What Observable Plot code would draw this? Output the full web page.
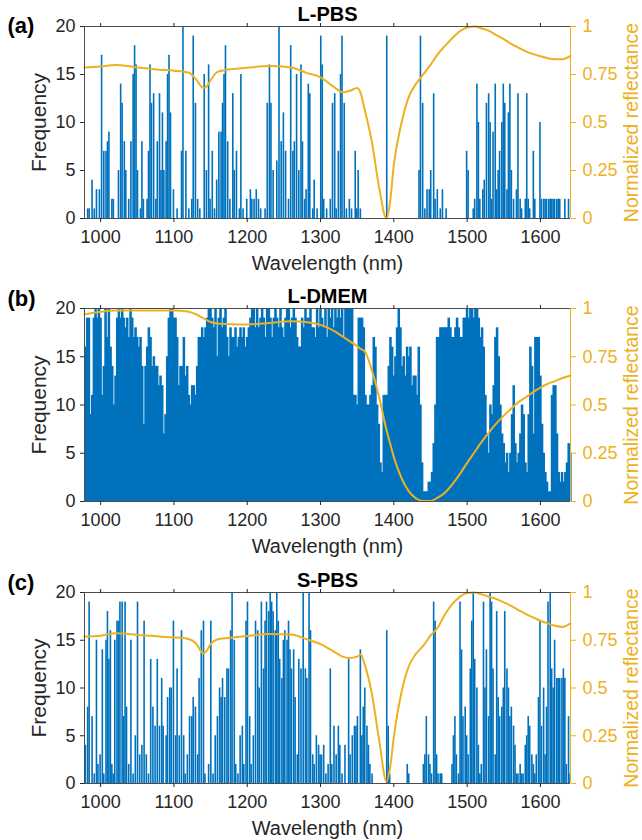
<!DOCTYPE html>
<html>
<head>
<meta charset="utf-8">
<script src="https://cdn.jsdelivr.net/npm/d3@7"></script>
<script src="https://cdn.jsdelivr.net/npm/@observablehq/plot@0.6"></script>
<style>
  html, body { margin: 0; padding: 0; background: #fff; width: 642px; height: 840px; overflow: hidden; }
  svg { display: block; }
</style>
</head>
<body>
<div id="chart"></div>
<script>
// ---------- data ----------
const xTicks = [1000, 1100, 1200, 1300, 1400, 1500, 1600];
const yTicks = [0, 5, 10, 15, 20];
const reflTickLabels = ["0", "0.25", "0.5", "0.75", "1"];
const xDomain = [978, 1641];
const titles = ["L-PBS", "L-DMEM", "S-PBS"];
const letters = ["(a)", "(b)", "(c)"];

// (a) L-PBS histogram: [wavelength nm, frequency]
const lpbsBars = [
  [983,1],[985,1],[989,4],[992,1],[995,3],[999,3],[1002,17],[1005,7],[1008,7],[1010,8],
  [1012,9],[1016,2],[1018,2],[1025,5],[1028,14],[1030,12],[1033,8],[1035,5],[1039,2],[1042,8],
  [1045,15],[1047,18],[1049,16],[1051,5],[1055,1],[1057,8],[1059,2],[1064,2],[1066,7],[1068,16],
  [1070,12],[1073,13],[1076,2],[1078,8],[1081,13],[1083,5],[1085,11],[1087,5],[1090,8],[1092,15],
  [1094,17],[1096,11],[1100,3],[1105,1],[1111,7],[1113,20],[1117,7],[1121,1],[1125,2],[1127,19],
  [1130,12],[1133,2],[1136,1],[1142,15],[1145,5],[1148,16],[1150,2],[1153,7],[1156,1],[1159,4],
  [1162,9],[1165,9],[1167,12],[1169,15],[1171,18],[1174,8],[1177,2],[1181,13],[1183,5],[1186,7],
  [1190,1],[1192,15],[1195,1],[1200,2],[1205,3],[1207,2],[1210,2],[1213,3],[1216,2],[1219,1],
  [1225,1],[1228,12],[1231,16],[1233,12],[1236,5],[1241,6],[1244,20],[1247,8],[1250,11],[1253,7],
  [1257,2],[1260,18],[1263,7],[1265,8],[1268,15],[1271,5],[1274,16],[1276,8],[1279,2],[1281,3],
  [1284,14],[1286,13],[1290,1],[1292,4],[1296,1],[1301,19],[1303,16],[1305,2],[1309,1],[1314,2],
  [1317,12],[1320,13],[1322,1],[1325,7],[1328,15],[1330,19],[1333,12],[1336,1],[1340,2],[1343,1],
  [1348,7],[1350,1],[1352,5],[1355,1],[1391,19],[1435,5],[1437,19],[1440,12],[1443,1],[1446,3],
  [1449,3],[1451,5],[1455,13],[1457,2],[1460,3],[1464,1],[1467,3],[1472,1],[1500,7],[1502,5],
  [1509,1],[1511,2],[1514,14],[1516,10],[1518,2],[1522,3],[1524,4],[1527,12],[1530,13],[1532,10],
  [1534,2],[1536,9],[1539,14],[1541,3],[1543,5],[1545,7],[1548,10],[1550,14],[1552,12],[1555,3],
  [1557,11],[1559,14],[1561,5],[1564,2],[1568,3],[1570,13],[1573,2],[1575,1],[1580,2],[1582,13],
  [1584,2],[1586,1],[1591,7],[1593,2],[1600,10],[1602,2],[1605,2],[1607,2],[1609,2],[1612,2],
  [1614,2],[1616,2],[1618,2],[1620,2],[1623,2],[1625,2],[1627,2],[1634,2],[1639,2]
];

// (b) L-DMEM histogram: consecutive bins from ldmemStart, each ldmemStep nm wide
const ldmemStart = 979.55;
const ldmemStep = 2.2727;
const ldmemCounts = [
  16,19,19,9,11,19,20,19,20,19, 11,14,20,17,20,16,14,10,13,19,
  20,19,20,19,18,19,17,20,19,17, 18,17,16,17,14,8,14,16,18,17,
  14,15,14,14,12,13,12,7,9,15, 19,20,20,19,19,17,12,14,14,17,
  13,14,11,10,12,12,11,14,17,17, 18,17,18,19,20,20,19,18,20,15,
  19,20,18,19,20,17,15,18,17,17, 18,16,17,18,17,18,16,17,18,19,
  20,20,18,20,18,19,20,19,17,20, 20,19,17,19,20,19,18,20,18,17,
  19,20,20,18,19,20,19,17,16,16, 19,18,20,19,19,20,18,18,17,20,
  18,
  20,19,18,20,17,20,19,20,18,20, 19,20,19,20,17,20,20,20,20,20,
  11,11,10,19,19,19,18,11,10,10, 11,12,17,16,10,8,4,3,11,11,
  11,14,17,16,13,15,18,20,18,14, 15,13,16,15,16,12,13,13,11,16,
  10,4,1,1,1,2,2,3,6,10, 17,17,18,18,18,18,18,19,18,17,
  17,18,19,18,17,17,19,19,20,19, 20,20,19,20,20,19,17,18,16,11,
  7,5,10,9,12,17,18,15,10,7, 6,4,5,3,5,9,12,6,4,5,
  7,10,9,4,3,9,16,14,7,17, 17,17,13,8,5,3,2,1,1,11,
  12,12,7,3,2,3,2,3,4,6, 5
];

// (c) S-PBS histogram: [wavelength nm, frequency]
const spbsBars = [
  [980,4],[983,8],[985,19],[989,7],[992,1],[995,15],[997,2],[1000,3],[1003,14],[1005,1],
  [1008,15],[1010,18],[1012,13],[1014,16],[1016,2],[1018,1],[1020,15],[1023,17],[1025,17],[1027,19],
  [1030,19],[1032,7],[1034,19],[1036,8],[1039,2],[1042,15],[1045,1],[1048,5],[1051,19],[1054,3],
  [1057,4],[1060,17],[1063,3],[1066,1],[1069,13],[1072,8],[1075,6],[1078,13],[1081,6],[1084,11],
  [1086,6],[1090,5],[1092,9],[1095,10],[1097,10],[1100,17],[1103,5],[1105,12],[1108,5],[1111,16],
  [1114,5],[1116,1],[1119,3],[1122,7],[1125,7],[1127,9],[1130,8],[1133,3],[1135,11],[1138,16],
  [1141,17],[1143,1],[1148,2],[1151,17],[1154,1],[1157,5],[1160,7],[1163,10],[1165,9],[1167,11],
  [1170,9],[1173,12],[1175,12],[1178,16],[1180,20],[1183,15],[1185,2],[1188,1],[1191,5],[1194,6],
  [1196,2],[1199,17],[1201,19],[1204,7],[1206,2],[1209,5],[1212,17],[1215,16],[1217,10],[1220,19],
  [1223,12],[1225,17],[1227,19],[1230,18],[1232,20],[1234,19],[1236,18],[1239,16],[1241,20],[1243,17],
  [1245,13],[1248,11],[1250,15],[1252,16],[1255,15],[1257,17],[1259,14],[1261,12],[1264,14],[1266,9],
  [1269,3],[1271,13],[1274,12],[1277,20],[1280,12],[1282,11],[1285,20],[1287,16],[1290,3],[1292,2],
  [1295,5],[1298,4],[1300,3],[1302,3],[1305,4],[1308,1],[1311,2],[1314,12],[1316,2],[1319,6],
  [1322,3],[1325,6],[1327,4],[1330,1],[1334,4],[1339,13],[1341,3],[1344,5],[1347,6],[1349,6],
  [1351,7],[1355,14],[1357,5],[1359,8],[1361,10],[1364,6],[1366,4],[1368,2],[1371,1],[1391,16],
  [1393,6],[1395,1],[1419,2],[1421,1],[1441,2],[1443,3],[1445,7],[1448,3],[1450,2],[1452,1],
  [1455,19],[1457,17],[1459,3],[1461,1],[1464,1],[1466,1],[1480,2],[1482,5],[1484,7],[1486,3],
  [1489,1],[1491,19],[1493,14],[1495,7],[1498,8],[1500,5],[1502,3],[1505,12],[1507,17],[1509,20],
  [1511,13],[1514,10],[1516,4],[1518,1],[1520,2],[1523,19],[1525,10],[1527,14],[1530,7],[1532,20],
  [1534,19],[1536,12],[1539,3],[1541,18],[1543,9],[1545,7],[1548,8],[1550,10],[1552,18],[1555,12],
  [1557,10],[1559,7],[1561,8],[1564,6],[1566,4],[1568,1],[1570,1],[1573,2],[1575,1],[1577,1],
  [1580,4],[1582,5],[1584,7],[1586,6],[1589,3],[1591,2],[1593,1],[1595,3],[1598,9],[1600,17],
  [1602,6],[1605,10],[1607,3],[1609,8],[1611,19],[1614,20],[1616,12],[1618,10],[1620,15],[1623,11],
  [1625,11],[1627,11],[1630,11],[1632,12],[1634,11],[1636,2],[1639,7],[1641,1]
];

// normalized reflectance curves (right axis), sampled at reflWl
const reflWl = [978,1000,1020,1050,1080,1100,1120,1130,1140,1145,1150,1160,1170,1200,1230,1260,1280,1300,
  1320,1330,1340,1350,1355,1360,1370,1380,1390,1395,1400,1410,1420,1430,1440,1450,1460,1470,1480,1490,
  1500,1510,1520,1530,1540,1550,1560,1570,1580,1590,1600,1610,1620,1630,1641];
const lpbsRefl = [0.787,0.792,0.80,0.787,0.775,0.77,0.76,0.726,0.68,0.69,0.72,0.765,0.773,0.785,0.794,0.787,0.76,0.735,
  0.68,0.657,0.665,0.68,0.65,0.57,0.40,0.16,0.0,0.09,0.28,0.49,0.63,0.70,0.75,0.80,0.856,0.90,0.94,0.975,
  0.995,1.0,0.99,0.977,0.955,0.934,0.91,0.89,0.87,0.856,0.845,0.835,0.83,0.83,0.847];
const ldmemRefl = [0.97,0.983,0.99,0.99,0.99,0.99,0.983,0.97,0.95,0.94,0.93,0.922,0.92,0.917,0.925,0.934,0.93,0.915,
  0.88,0.855,0.83,0.805,0.79,0.78,0.68,0.54,0.37,0.30,0.23,0.125,0.055,0.017,0.003,0.003,0.02,0.047,0.09,0.142,
  0.2,0.255,0.31,0.36,0.405,0.445,0.48,0.515,0.54,0.567,0.59,0.61,0.624,0.64,0.653];
const spbsRefl = [0.769,0.774,0.786,0.778,0.769,0.765,0.757,0.734,0.682,0.696,0.73,0.755,0.76,0.772,0.783,0.78,0.757,0.73,
  0.687,0.664,0.657,0.664,0.675,0.626,0.47,0.226,0.01,0.087,0.243,0.47,0.61,0.678,0.72,0.774,0.817,0.887,0.94,0.977,
  0.997,1.0,0.99,0.978,0.965,0.948,0.93,0.908,0.887,0.87,0.852,0.838,0.826,0.82,0.838];

// ---------- drawing ----------
const BLUE = "#0072BD";
const GOLD = "#EDB120";
const AXIS = "#4d4d4d";
const FONT = "'Liberation Sans', Arial, Helvetica, sans-serif";

function panel({bars, bw, pad, refl, title, letter, letterDy, mt, mb, h}) {
  const line = reflWl.map((w, i) => ({w, r: refl[i]}));
  return Plot.plot({
    width: 642, height: h,
    marginLeft: 84, marginRight: 72, marginTop: mt, marginBottom: mb,
    x: {domain: xDomain},
    y: {domain: [0, 20]},
    style: {fontFamily: FONT, fontSize: "18px", color: "#262626", background: "#fff", overflow: "visible"},
    marks: [
      Plot.rectY(bars, {x1: d => d.w - bw / 2, x2: d => d.w + bw / 2 + pad, y: "c", fill: BLUE}),
      Plot.line(line, {x: "w", y: d => d.r * 20, stroke: GOLD, strokeWidth: 2, curve: "monotone-x"}),
      Plot.ruleY([20], {stroke: AXIS}),
      Plot.ruleY([0], {stroke: AXIS}),
      Plot.ruleX([xDomain[0]], {stroke: AXIS}),
      Plot.ruleX([xDomain[1]], {stroke: GOLD}),
      Plot.axisX({anchor: "bottom", ticks: xTicks, tickSize: 4, tickPadding: 8, fontSize: 18, label: null, tickFormat: d => String(d)}),
      Plot.axisX({anchor: "top", ticks: xTicks, tickSize: 4, tickFormat: () => "", label: null}),
      Plot.axisY({anchor: "left", ticks: yTicks, tickSize: 4, tickPadding: 5, fontSize: 18, label: null, tickFormat: d => String(d)}),
      Plot.axisY({anchor: "right", ticks: yTicks, tickSize: 5, tickPadding: 7, fontSize: 18, label: null, color: GOLD,
                  tickFormat: d => reflTickLabels[yTicks.indexOf(d)]}),
      Plot.text([title], {text: d => d, frameAnchor: "top", dy: -6, lineAnchor: "bottom", textAnchor: "middle", fontWeight: "bold", fontSize: 20, fill: "#000"}),
      Plot.text([letter], {text: d => d, frameAnchor: "top-left", dx: -77, dy: letterDy, lineAnchor: "bottom", textAnchor: "start", fontWeight: "bold", fontSize: 22, fill: "#000"}),
      Plot.text(["Frequency"], {text: d => d, frameAnchor: "left", dx: -39, rotate: -90, lineAnchor: "bottom", textAnchor: "middle", fontSize: 21, fill: "#262626"}),
      Plot.text(["Wavelength (nm)"], {text: d => d, frameAnchor: "bottom", dy: 51, lineAnchor: "bottom", textAnchor: "middle", fontSize: 20, fill: "#262626"}),
      Plot.text(["Normalized reflectance"], {text: d => d, frameAnchor: "right", dx: 67, rotate: -90, lineAnchor: "bottom", textAnchor: "middle", fontSize: 19.5, fill: GOLD})
    ]
  });
}

const toObj = pairs => pairs.map(([w, c]) => ({w, c}));
const ldmemBars = ldmemCounts.map((c, i) => ({w: ldmemStart + i * ldmemStep, c}));

const root = document.getElementById("chart");
root.append(panel({bars: toObj(lpbsBars), bw: 2.2, pad: 0, refl: lpbsRefl, title: titles[0], letter: letters[0], letterDy: 6, mt: 26, mb: 64, h: 282}));
root.append(panel({bars: ldmemBars, bw: ldmemStep, pad: 1.2, refl: ldmemRefl, title: titles[1], letter: letters[1], letterDy: -3, mt: 26, mb: 63, h: 282}));
root.append(panel({bars: toObj(spbsBars), bw: 2.2, pad: 0, refl: spbsRefl, title: titles[2], letter: letters[2], letterDy: -3, mt: 28, mb: 57, h: 276}));
</script>
</body>
</html>
